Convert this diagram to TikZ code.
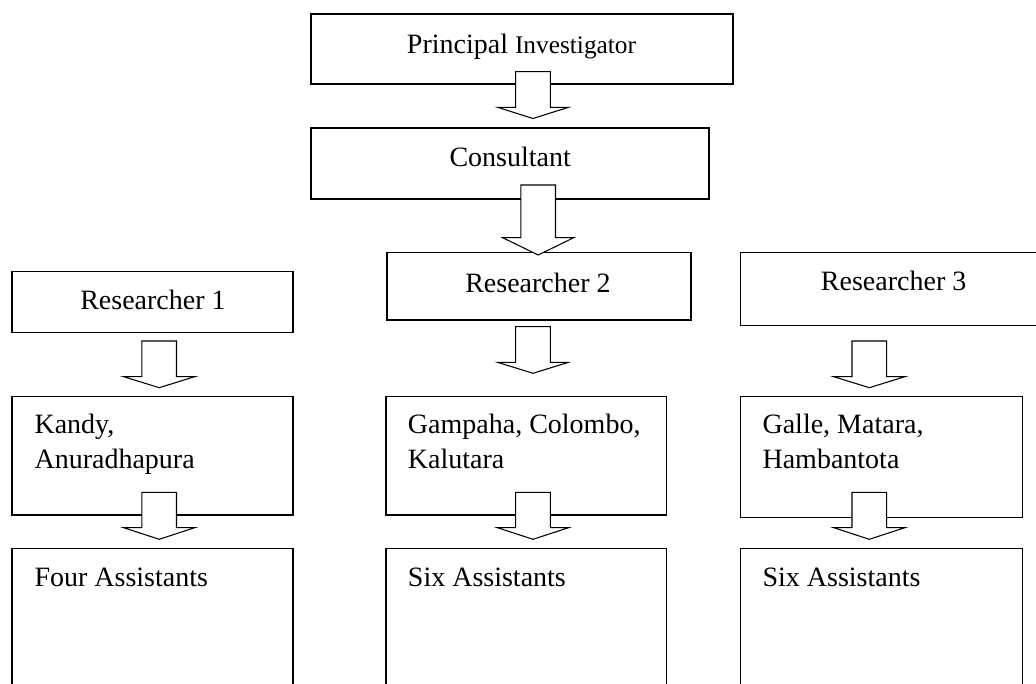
\documentclass[tikz,border=0pt]{standalone}
\usepackage{fontspec}
\setmainfont{Liberation Serif}
\usetikzlibrary{fit}
\newcommand{\blockarrow}[4]{% cx, shaft top, wing y, tip y
  \draw[blk] ({#1-17.3},#2) -- ({#1-17.3},#3) -- ({#1-35.5},#3) -- (#1,#4)
    -- ({#1+35.5},#3) -- ({#1+17.3},#3) -- ({#1+17.3},#2) -- cycle;}
\begin{document}
\begin{tikzpicture}[x=0.75pt,y=-0.75pt,
  box/.style={draw=black, line width=0.8pt, inner sep=0pt, fill=white},
  txt/.style={font=\fontsize{21}{26}\selectfont, inner sep=0pt, anchor=base west},
  blk/.style={draw=black, fill=white, line width=0.8pt, line join=miter}]
\useasboundingbox (0,0) rectangle (1036,684);
\clip (0,0) rectangle (1036,684);
\fill[white] (0,0) rectangle (1036,684);

% top chain
\node[box, fit={(311,14) (733,84)}] (pi) {};
\node[txt] (pit) at (406.7,53.3) {Principal {\fontsize{19}{23}\selectfont Investigator}};
\node[box, fit={(311,128) (709,199)}] (cons) {};
\node[txt] (const) at (449.3,166.7) {Consultant};

% researchers
\node[box, fit={(12,271.7) (293,332.7)}] (r1) {};
\node[txt] (r1t) at (80,310) {Researcher 1};
\node[box, fit={(387,252.3) (691,320)}] (r2) {};
\node[txt] (r2t) at (465,292.3) {Researcher 2};
\node[box, fit={(740.7,252.3) (1060,325.7)}] (r3) {};
\node[txt] (r3t) at (820.7,291) {Researcher 3};

% districts
\node[box, fit={(12,396.7) (293,515)}] (d1) {};
\node[txt] (d1a) at (34.3,434) {Kandy,};
\node[txt] (d1b) at (34.3,468.3) {Anuradhapura};
\node[box, fit={(386,396.7) (666.7,515)}] (d2) {};
\node[txt] (d2a) at (407.7,434) {Gampaha, Colombo,};
\node[txt] (d2b) at (407.7,468.3) {Kalutara};
\node[box, fit={(740.7,396.7) (1022.3,517.3)}] (d3) {};
\node[txt] (d3a) at (762.3,434) {Galle, Matara,};
\node[txt] (d3b) at (762.3,468.3) {Hambantota};

% assistants
\node[box, fit={(12,548.3) (293,720)}] (a1) {};
\node[txt] (a1t) at (34.3,586.7) {Four Assistants};
\node[box, fit={(386,548.3) (666.7,720)}] (a2) {};
\node[txt] (a2t) at (407.7,586.7) {Six Assistants};
\node[box, fit={(740.7,548.3) (1022.3,720)}] (a3) {};
\node[txt] (a3t) at (762.3,586.7) {Six Assistants};

% block arrows
\blockarrow{533}{71.7}{107.3}{118.5}
\blockarrow{538.2}{185}{237.7}{255}
\blockarrow{159.2}{341}{376.7}{387.7}
\blockarrow{533}{326.7}{362.3}{373.3}
\blockarrow{869.3}{341}{376.7}{387.7}
\blockarrow{159.2}{492.3}{527.7}{539.3}
\blockarrow{533}{492.3}{527.7}{539.3}
\blockarrow{869.3}{492.3}{527.7}{539.3}
\end{tikzpicture}
\end{document}
